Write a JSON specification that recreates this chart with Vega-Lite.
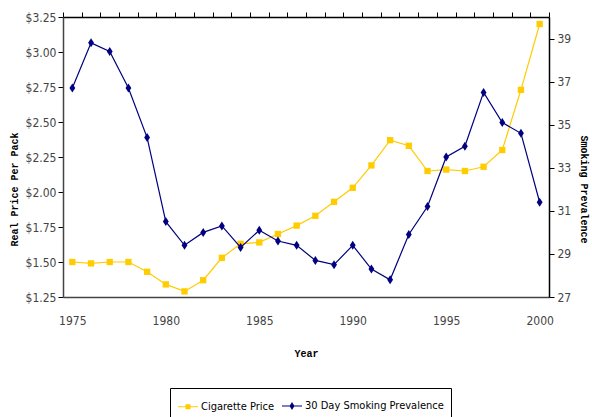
{
  "$schema": "https://vega.github.io/schema/vega-lite/v6.json",
  "autosize": "none",
  "width": 486,
  "height": 280,
  "padding": {"left": 63, "top": 17, "right": 43, "bottom": 120},
  "background": "#ffffff",
  "config": {
    "view": {"fill": "#C0C0C0", "stroke": null},
    "axis": {
      "domainColor": "#444444",
      "domainWidth": 1.5,
      "tickColor": "#000000",
      "tickWidth": 1,
      "tickSize": 5,
      "grid": false,
      "labelFont": "DejaVu Sans Condensed",
      "labelFontSize": 12,
      "labelColor": "#444444",
      "titleFont": "Liberation Mono",
      "titleFontWeight": "bold",
      "titleFontSize": 10,
      "titleColor": "#000000"
    },
    "legend": {
      "labelFont": "DejaVu Sans Condensed",
      "labelFontSize": 11,
      "labelColor": "#000000"
    }
  },
  "data": {
    "values": [
      {"year": 1975, "price": 1.50, "prev": 36.7},
      {"year": 1976, "price": 1.49, "prev": 38.8},
      {"year": 1977, "price": 1.50, "prev": 38.4},
      {"year": 1978, "price": 1.50, "prev": 36.7},
      {"year": 1979, "price": 1.43, "prev": 34.4},
      {"year": 1980, "price": 1.34, "prev": 30.5},
      {"year": 1981, "price": 1.29, "prev": 29.4},
      {"year": 1982, "price": 1.37, "prev": 30.0},
      {"year": 1983, "price": 1.53, "prev": 30.3},
      {"year": 1984, "price": 1.63, "prev": 29.3},
      {"year": 1985, "price": 1.64, "prev": 30.1},
      {"year": 1986, "price": 1.70, "prev": 29.6},
      {"year": 1987, "price": 1.76, "prev": 29.4},
      {"year": 1988, "price": 1.83, "prev": 28.7},
      {"year": 1989, "price": 1.93, "prev": 28.5},
      {"year": 1990, "price": 2.03, "prev": 29.4},
      {"year": 1991, "price": 2.19, "prev": 28.3},
      {"year": 1992, "price": 2.37, "prev": 27.8},
      {"year": 1993, "price": 2.33, "prev": 29.9},
      {"year": 1994, "price": 2.15, "prev": 31.2},
      {"year": 1995, "price": 2.16, "prev": 33.5},
      {"year": 1996, "price": 2.15, "prev": 34.0},
      {"year": 1997, "price": 2.18, "prev": 36.5},
      {"year": 1998, "price": 2.30, "prev": 35.1},
      {"year": 1999, "price": 2.73, "prev": 34.6},
      {"year": 2000, "price": 3.20, "prev": 31.4}
    ]
  },
  "layer": [
    {
      "encoding": {
        "x": {
          "field": "year",
          "type": "quantitative",
          "scale": {"domain": [1974.5, 2000.5], "nice": false, "zero": false},
          "axis": {
            "values": [1975, 1980, 1985, 1990, 1995, 2000],
            "format": "d",
            "ticks": false,
            "labelPadding": 18,
            "title": "Year",
            "titlePadding": 22
          }
        },
        "y": {
          "field": "price",
          "type": "quantitative",
          "scale": {"domain": [1.25, 3.25], "nice": false, "zero": false},
          "axis": {
            "values": [1.25, 1.5, 1.75, 2.0, 2.25, 2.5, 2.75, 3.0, 3.25],
            "format": "$.2f",
            "title": "Real Price Per Pack",
            "titleY": 172,
            "labelPadding": 2,
            "titlePadding": 6
          }
        }
      },
      "layer": [
        {"mark": {"type": "line", "color": "#FFCC00", "strokeWidth": 1.2}},
        {"mark": {"type": "point", "shape": "square", "filled": true, "opacity": 1, "color": "#FFCC00", "size": 40}}
      ]
    },
    {
      "encoding": {
        "x": {
          "field": "year",
          "type": "quantitative",
          "scale": {"domain": [1974.5, 2000.5], "nice": false, "zero": false},
          "axis": {
            "values": [1974.5, 1975.5, 1976.5, 1977.5, 1978.5, 1979.5, 1980.5, 1981.5, 1982.5, 1983.5, 1984.5, 1985.5, 1986.5, 1987.5, 1988.5, 1989.5, 1990.5, 1991.5, 1992.5, 1993.5, 1994.5, 1995.5, 1996.5, 1997.5, 1998.5, 1999.5, 2000.5],
            "labels": false,
            "title": null,
            "domainColor": "#000000"
          }
        },
        "y": {
          "field": "prev",
          "type": "quantitative",
          "scale": {"domain": [27, 40], "nice": false, "zero": false},
          "axis": {
            "orient": "right",
            "values": [27, 29, 31, 33, 35, 37, 39],
            "title": "Smoking Prevalence",
            "titleY": 172,
            "domainColor": "#000000",
            "labelPadding": 3,
            "titlePadding": 8
          }
        }
      },
      "layer": [
        {"mark": {"type": "line", "color": "#000080", "strokeWidth": 1.2}},
        {"mark": {"type": "point", "shape": "M0,-1L0.65,0L0,1L-0.65,0Z", "filled": true, "opacity": 1, "color": "#000080", "size": 81}}
      ]
    },
    {
      "data": {"values": [{"s": "Cigarette Price"}, {"s": "30 Day Smoking Prevalence"}]},
      "mark": {"type": "point", "filled": true, "opacity": 0},
      "encoding": {
        "color": {
          "field": "s",
          "type": "nominal",
          "scale": {"domain": ["Cigarette Price", "30 Day Smoking Prevalence"], "range": ["#FFCC00", "#000080"]},
          "legend": {
            "title": null,
            "orient": "none",
            "legendX": 107,
            "legendY": 371,
            "direction": "horizontal",
            "strokeColor": "#000000",
            "padding": 7,
            "symbolSize": 400,
            "symbolOpacity": 1,
            "labelOffset": 2,
            "columnPadding": 4
          }
        },
        "shape": {
          "field": "s",
          "type": "nominal",
          "scale": {"domain": ["Cigarette Price", "30 Day Smoking Prevalence"], "range": ["M-1,-0.05H1V0.05H-1Z M-0.25,-0.25H0.25V0.25H-0.25Z", "M-1,-0.05H1V0.05H-1Z M0,-0.4L0.25,0L0,0.4L-0.25,0Z"]},
          "legend": {
            "title": null,
            "orient": "none",
            "legendX": 107,
            "legendY": 371,
            "direction": "horizontal",
            "strokeColor": "#000000",
            "padding": 7,
            "symbolSize": 400,
            "symbolOpacity": 1,
            "labelOffset": 2,
            "columnPadding": 4
          }
        }
      }
    }
  ],
  "resolve": {"scale": {"y": "independent"}, "axis": {"x": "independent"}}
}
